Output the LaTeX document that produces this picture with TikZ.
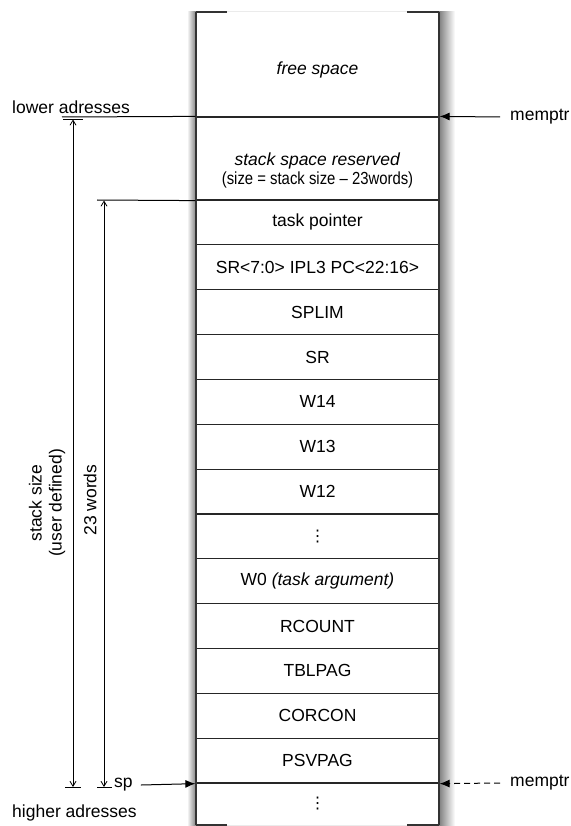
\documentclass[tikz,border=0pt]{standalone}
\usepackage{fontspec}
\setmainfont{Liberation Sans}
\newfontfamily\dejavu{DejaVu Sans}
\usetikzlibrary{arrows.meta}
\begin{document}
\begin{tikzpicture}[x=1pt,y=-1pt,
  lbl/.style={font=\fontsize{17.5}{20}\selectfont, inner sep=0pt},
  rowbox/.style={draw=black!85, line width=1.2pt, minimum width=243pt, minimum height=44.85pt, inner sep=0pt, lbl},
  edge/.style={draw=black!80, line width=1.4pt},
  ptr/.style={-{Latex[length=10pt,width=8pt]}, line width=1pt},
  dimline/.style={{Straight Barb[length=5pt,width=6pt]}-{Straight Barb[length=5pt,width=6pt]}, line width=0.8pt},
  tick/.style={line width=1pt},
  dots/.style={font=\dejavu\fontsize{16}{16}\selectfont, inner sep=0pt},
]
\useasboundingbox (0,0) rectangle (570,826);
% soft shadow of the column
\shade[left color=white, right color=black!50] (187,12) rectangle (196,825);
\shade[left color=black!50, right color=white] (439,12) rectangle (455,825);
\fill[white] (196,12) rectangle (439,825);
% corners of the column
\coordinate (TL) at (196,12);
\coordinate (TR) at (439,12);
\coordinate (BL) at (196,825);
\coordinate (BR) at (439,825);
% top region
\node[lbl] (free) at (317.5,70) {\textit{free space}};
\node[rowbox, minimum height=83pt] (res) at (317.5,158.5) {};
\node[lbl] (restxt) at (317.5,161) {\textit{stack space reserved}};
\node[lbl] (ressub) at (317.5,180) {\scalebox{0.85}[1]{(size = stack size – 23words)}};
% stack frame rows
\foreach \t [count=\i] in {task pointer, SR<7:0> IPL3 PC<22:16>, SPLIM, SR, W14, W13, W12, {\dejavu\fontsize{16}{16}\selectfont ⋮}, {W0 \textit{(task argument)}}, RCOUNT, TBLPAG, CORCON, PSVPAG}{
  \node[rowbox] (r\i) at (317.5,{200+44.85*(\i-0.5)}) {\t};
}
\node[dots] (last) at (317.5,804) {⋮};
% outline of the column
\draw[edge] (TL) -- (BL);
\draw[edge] (TR) -- (BR);
\draw[black!8, line width=1pt] (TL) -- (TR);
\draw[black!8, line width=1pt] (BL) -- (BR);
\draw[edge] ([xshift=31pt]TL) -- (TL);
\draw[edge] ([xshift=-32pt]TR) -- (TR);
\draw[edge] ([xshift=31pt]BL) -- (BL);
\draw[edge] ([xshift=-32pt]BR) -- (BR);
% left annotations
\node[lbl, anchor=south west] (low) at (12,114) {lower adresses};
\node[lbl, anchor=west] (high) at (12,813) {higher adresses};
\coordinate (lowend) at (62,117);
\coordinate (wordend) at (97,200);
\draw[line width=1pt] (res.north west) -- (lowend);
\draw[line width=1pt] (res.south west) -- (wordend);
\coordinate (ssT) at (73,119.5);
\coordinate (ssB) at (73,787);
\coordinate (wT) at (104,200.5);
\coordinate (wB) at (104,787);
\draw[dimline] (ssT) -- (ssB);
\draw[dimline] (wT) -- (wB);
\draw[tick] ([xshift=-10pt]ssT) -- ([xshift=10pt]ssT);
\draw[tick] ([xshift=-8pt]ssB) -- ([xshift=8pt]ssB);
\draw[tick] ([xshift=-7pt]wB) -- ([xshift=8pt]wB);
\node[lbl, rotate=90, align=center] (sslbl) at (47,503) {stack size\\(user defined)};
\node[lbl, rotate=90] (wlbl) at (90,500) {23 words};
% stack pointer
\node[lbl, anchor=west] (sp) at (114,785) {sp};
\draw[ptr] ([xshift=8pt]sp.east) -- (r13.south west);
% memptr pointers
\node[lbl, anchor=west] (mp1) at (510,117) {memptr};
\node[lbl, anchor=west] (mp2) at (510,783) {memptr};
\draw[ptr] ([xshift=-10pt]mp1.west) -- (res.north east);
\draw[ptr, dash pattern=on 6pt off 4pt] ([xshift=-10pt]mp2.west) -- (r13.south east);
\end{tikzpicture}
\end{document}
